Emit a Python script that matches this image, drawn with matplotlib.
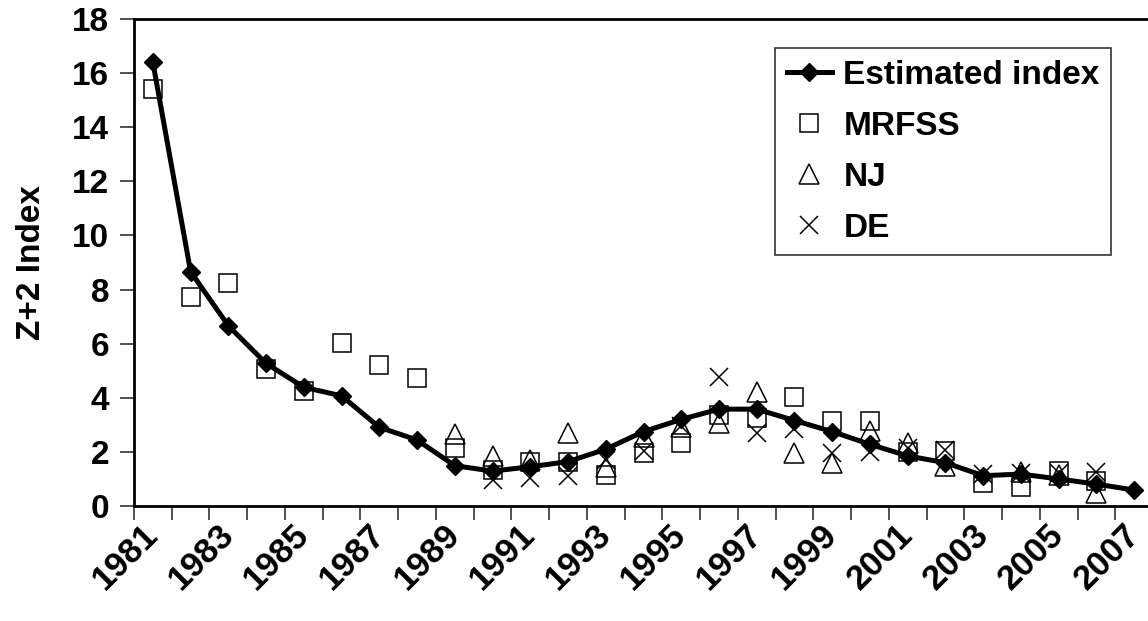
import matplotlib.pyplot as plt
import numpy as np

plt.rcParams['font.family'] = ['Liberation Sans', 'DejaVu Sans']
plt.rcParams['font.weight'] = 'bold'

years = list(range(1981, 2008))
nan = np.nan

# values
estimated = [16.4, 8.66, 6.66, 5.27, 4.39, 4.07, 2.91, 2.44, 1.49, 1.29,
             1.45, 1.64, 2.1, 2.75, 3.2, 3.58, 3.58, 3.16, 2.75, 2.28,
             1.85, 1.6, 1.12, 1.18, 1.0, 0.81, 0.59]
mrfss = [15.41, 7.72, 8.25, 5.05, 4.25, 6.01, 5.21, 4.72, 2.13, 1.33,
         1.64, 1.64, 1.15, 1.95, 2.32, 3.36, 3.24, 4.04, 3.14, 3.14,
         2.0, 2.03, 0.84, 0.71, 1.3, 0.93, nan]
nj = [nan, nan, nan, nan, nan, nan, nan, nan, 2.65, 1.85,
      1.7, 2.68, 1.45, 2.56, 2.93, 3.07, 4.2, 1.96, 1.58, 2.76,
      2.32, 1.48, nan, 1.27, 1.15, 0.47, nan]
de = [nan, nan, nan, nan, nan, nan, nan, nan, nan, 0.96,
      1.02, 1.12, 1.7, 2.04, 2.95, 4.75, 2.69, 2.83, 1.97, 2.0,
      2.13, 2.06, 1.18, 1.21, 1.23, 1.27, nan]
year_labels = [str(y) if (y - 1981) % 2 == 0 else '' for y in years]

x = np.arange(len(years))
fs = 24

fig = plt.figure(figsize=(11.48, 6.21), dpi=100)
ax = fig.add_axes([134 / 1148, 115 / 621, 1019 / 1148, 487 / 621])

ax.plot(x, estimated, color='black', lw=3.6, marker='D', ms=9,
        label='Estimated index', zorder=5)
ax.plot(x, mrfss, ls='none', marker='s', ms=13.5, mfc='none', mec='black',
        mew=1.1, label='MRFSS', zorder=3)
ax.plot(x, nj, ls='none', marker='^', ms=15, mfc='none', mec='black',
        mew=1.1, label='NJ', zorder=3)
ax.plot(x, de, ls='none', marker='x', ms=13, mec='black', mew=1.1,
        label='DE', zorder=3)

ax.set_xlim(-0.5, len(years) - 0.5)
ax.set_ylim(0, 18)
ax.set_yticks(np.arange(0, 19, 2))
ax.tick_params(axis='y', labelsize=fs, length=10, width=1.2, color='#333333', pad=8)

# tick marks on category boundaries, labels on category centres
ax.set_xticks(np.arange(-0.5, len(years), 1))
ax.set_xticklabels([])
ax.tick_params(axis='x', which='major', length=10, width=1.2, color='#333333')
ax.set_xticks(x, minor=True)
ax.set_xticklabels(year_labels, minor=True, rotation=45, ha='right', va='center',
                   rotation_mode='anchor', fontsize=25)
ax.tick_params(axis='x', which='minor', length=0, pad=17)

for s in ['left', 'bottom', 'top']:
    ax.spines[s].set_linewidth(2)
ax.spines['right'].set_visible(False)

ax.set_ylabel('Z+2 Index', fontsize=fs, fontweight='bold', labelpad=18)

leg = ax.legend(loc='upper left', bbox_to_anchor=((775 - 134) / 1019, (506 - 48) / 487),
                fontsize=fs, frameon=True, fancybox=False, edgecolor='black',
                handlelength=1.35, handletextpad=0.35, labelspacing=0.6,
                borderpad=0.35, borderaxespad=0)
leg.get_frame().set_linewidth(1.2)

plt.savefig('out.png', dpi=100)
